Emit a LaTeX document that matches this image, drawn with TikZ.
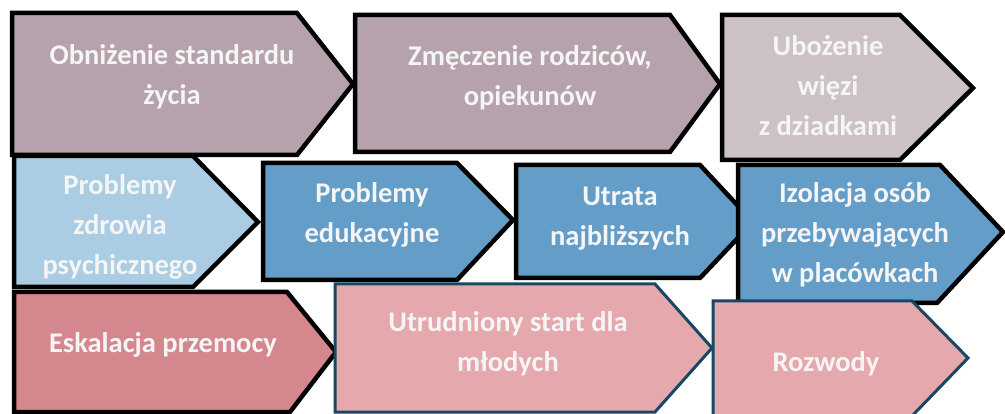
\documentclass[tikz,border=0pt]{standalone}
\usepackage{fontspec}
\setmainfont{Carlito}

\definecolor{mauve}{RGB}{182,162,172}
\definecolor{palemauve}{RGB}{204,194,196}
\definecolor{paleblue}{RGB}{170,205,228}
\definecolor{midblue}{RGB}{100,157,199}
\definecolor{deeprose}{RGB}{213,135,142}
\definecolor{rose}{RGB}{229,168,172}
\definecolor{edgeblue}{RGB}{25,70,100}

\begin{document}
\begin{tikzpicture}[x=1pt, y=-1pt,
  arrowbox/.style={draw=black, line width=4.5pt, line join=miter},
  bluebox/.style={draw=edgeblue, line width=3pt, line join=miter},
  boxtext/.style={text=white!96!black, align=center,
    font=\bfseries\fontsize{28.5}{40}\selectfont}]
  \useasboundingbox (0,0) rectangle (1005,414);

  % first row
  \draw[arrowbox, fill=mauve] (12,13) -- (297,13) -- (353,84) -- (297,155) -- (12,155) -- cycle;
  \node[boxtext] (standard) at (172,77) {Obniżenie standardu\\życia};
  \draw[arrowbox, fill=mauve] (355,15) -- (670,15) -- (720,84) -- (670,152) -- (355,152) -- cycle;
  \node[boxtext] (rodzice) at (530,78) {Zmęczenie rodziców,\\opiekunów};
  \draw[arrowbox, fill=palemauve] (722,15) -- (900,15) -- (973,88) -- (900,160) -- (722,160) -- cycle;
  \node[boxtext] (dziadkowie) at (828,86) {Ubożenie\\więzi\\z dziadkami};

  % second row
  \draw[arrowbox, fill=paleblue] (14,156) -- (193,156) -- (258,222) -- (193,287) -- (14,287) -- cycle;
  \node[boxtext] (zdrowie) at (120,227) {Problemy\\zdrowia\\psychicznego};
  \draw[arrowbox, fill=midblue] (263,163) -- (457,163) -- (513,220) -- (457,280) -- (263,280) -- cycle;
  \node[boxtext] (edukacja) at (372,215) {Problemy\\edukacyjne};
  \draw[arrowbox, fill=midblue] (516,165) -- (700,165) -- (753,222) -- (700,278) -- (516,278) -- cycle;
  \node[boxtext] (utrata) at (620,219) {Utrata\\najbliższych};
  \draw[arrowbox, fill=midblue] (738,165) -- (940,165) -- (1003,232) -- (937,303) -- (738,303) -- cycle;
  \node[boxtext] (izolacja) at (855,235) {Izolacja osób\\przebywających\\w placówkach};

  % third row
  \draw[arrowbox, fill=deeprose] (14,292) -- (287,292) -- (336,352) -- (290,412) -- (14,412) -- cycle;
  \node[boxtext] (przemoc) at (163,345) {Eskalacja przemocy};
  \draw[bluebox, fill=rose] (335,284) -- (655,284) -- (712,348) -- (655,412) -- (335,412) -- cycle;
  \node[boxtext] (start) at (508,344) {Utrudniony start dla\\młodych};
  \draw[bluebox, fill=rose] (713,301) -- (912,301) -- (968,358) -- (912,416) -- (713,416) -- cycle;
  \node[boxtext] (rozwody) at (826,364) {Rozwody};
\end{tikzpicture}
\end{document}
